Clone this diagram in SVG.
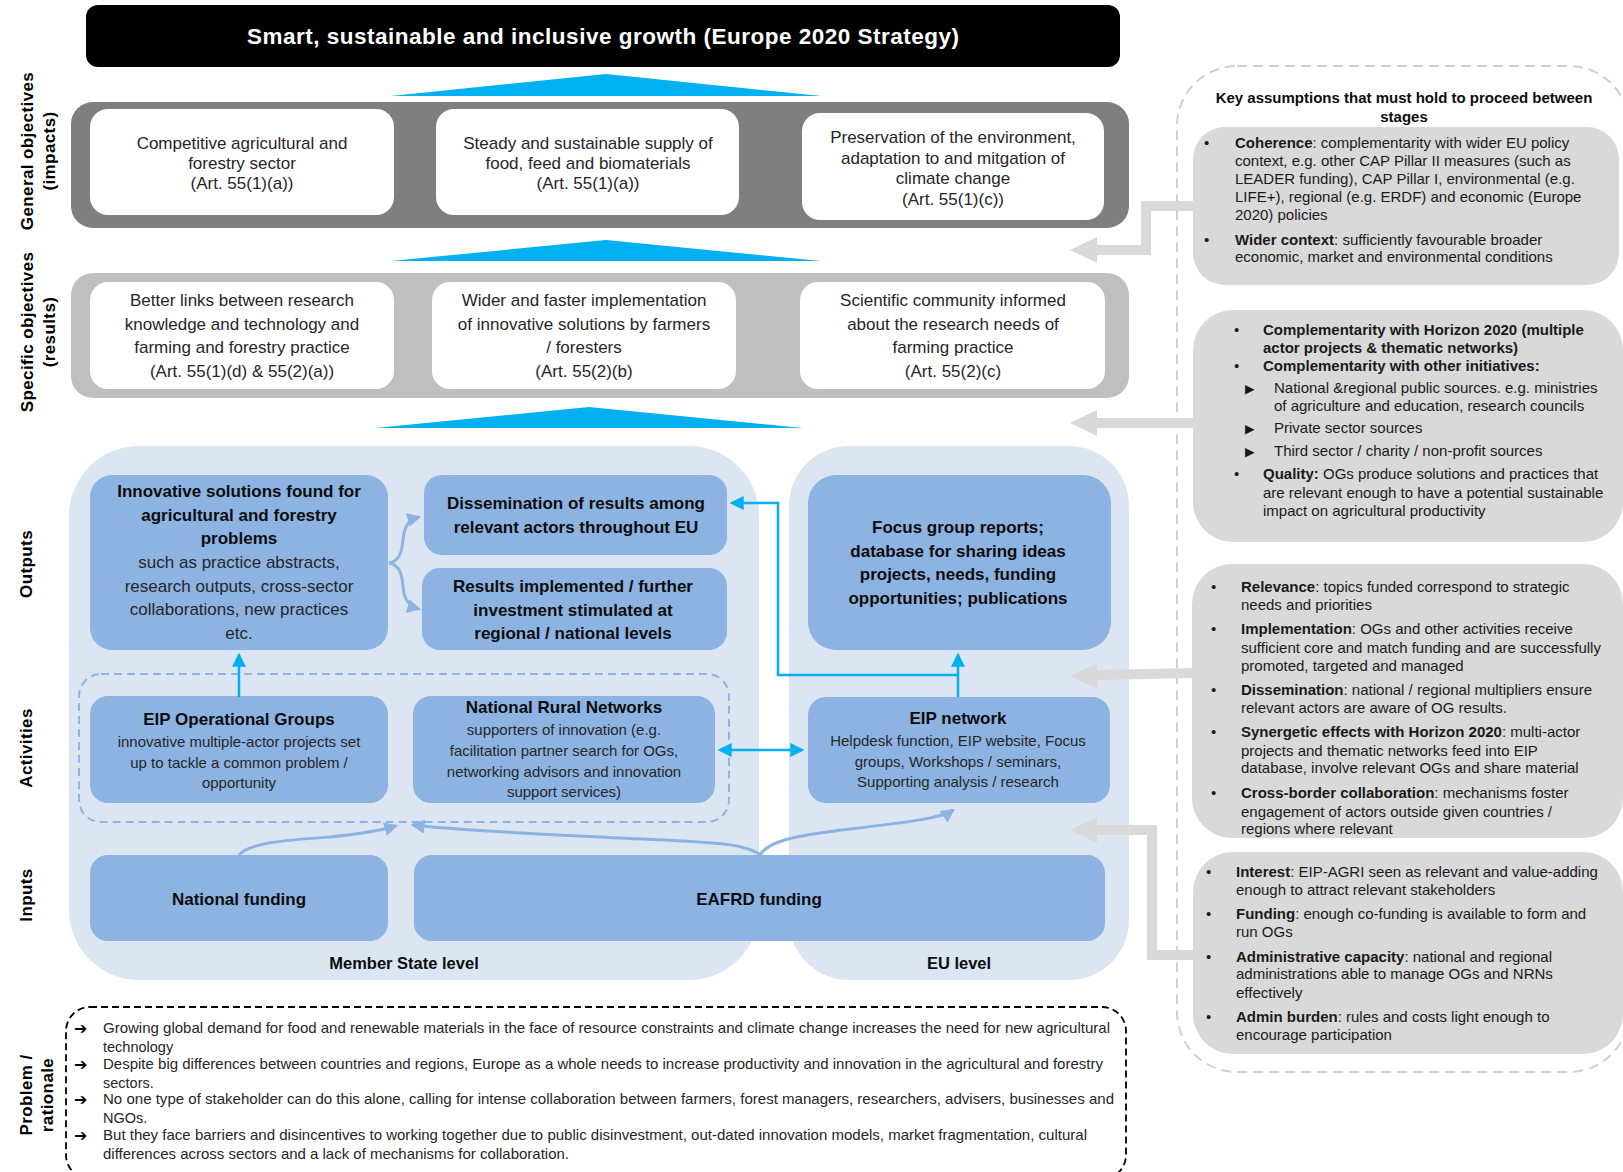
<svg xmlns="http://www.w3.org/2000/svg" width="1623" height="1172" viewBox="0 0 1623 1172">
<style>
text{font-family:"Liberation Sans",Arial,sans-serif}
.c{text-anchor:middle}
.wt{font-size:17px;fill:#262626}
.bb{font-size:17px;font-weight:bold;fill:#0d0d0d}
.br{font-size:17px;fill:#262626}
.ab{font-size:17px;font-weight:bold;fill:#0d0d0d}
.ar{font-size:15px;fill:#262626}
.side{font-size:17px;font-weight:bold;fill:#000;letter-spacing:0.4px}
.pt{font-size:14.5px;fill:#262626}
.ka{font-size:15px;fill:#1a1a1a}
.bu{font-size:15px;fill:#1a1a1a}
.tri{font-family:"DejaVu Sans",sans-serif;font-size:12.5px;fill:#1a1a1a}
.arw{font-family:"DejaVu Sans",sans-serif;font-size:16px;font-weight:bold;fill:#000}
.blue{fill:#8DB3E2}
.cy{fill:none;stroke:#00B0F0;stroke-width:2.5}
.cv{fill:none;stroke:#8DB3E2;stroke-width:3}
.gr{fill:none;stroke:#D9D9D9;stroke-width:10}
.gh{fill:#D9D9D9}
.trg{fill:#00B0F0}
</style>
<defs>
<marker id="mc" markerUnits="userSpaceOnUse" markerWidth="14" markerHeight="14" refX="10" refY="6" orient="auto-start-reverse" viewBox="0 0 12 12">
<path d="M0,0 L12,6 L0,12 Z" fill="#00B0F0"/>
</marker>
<marker id="mb" markerUnits="userSpaceOnUse" markerWidth="14" markerHeight="14" refX="10" refY="6" orient="auto" viewBox="0 0 12 12">
<path d="M0,0 L12,6 L0,12 Z" fill="#8DB3E2"/>
</marker>
</defs>
<rect width="1623" height="1172" fill="#fff"/>

<!-- side labels -->
<g id="side-labels">
<text class="side c" transform="translate(33,151) rotate(-90)">General objectives</text>
<text class="side c" transform="translate(55,151) rotate(-90)">(impacts)</text>
<text class="side c" transform="translate(33,332) rotate(-90)">Specific objectives</text>
<text class="side c" transform="translate(55,332) rotate(-90)">(results)</text>
<text class="side c" transform="translate(32,564) rotate(-90)">Outputs</text>
<text class="side c" transform="translate(32,748) rotate(-90)">Activities</text>
<text class="side c" transform="translate(32,895) rotate(-90)">Inputs</text>
<text class="side c" transform="translate(32,1095) rotate(-90)">Problem /</text>
<text class="side c" transform="translate(53,1095) rotate(-90)">rationale</text>
</g>

<!-- title -->
<g id="title">
<rect x="86" y="5" width="1034" height="62" rx="12" fill="#000"/>
<text class="c" x="603" y="44" font-size="22.5" font-weight="bold" fill="#fff" textLength="712" lengthAdjust="spacing">Smart, sustainable and inclusive growth (Europe 2020 Strategy)</text>
</g>

<!-- upward triangles -->
<g id="triangles">
<polygon class="trg" points="391,96 606,74 821,96"/>
<polygon class="trg" points="391,261 606,240 821,261"/>
<polygon class="trg" points="375,428 589,407 803,428"/>
</g>

<!-- general objectives -->
<g id="general-objectives">
<rect x="71" y="102" width="1058" height="126" rx="22" fill="#7F7F7F"/>
<g id="go1">
<rect x="90" y="109" width="304" height="106" rx="18" fill="#fff"/>
<text class="wt c" x="242" y="149">Competitive  agricultural and</text>
<text class="wt c" x="242" y="169">forestry sector</text>
<text class="wt c" x="242" y="189">(Art. 55(1)(a))</text>
</g>
<g id="go2">
<rect x="436" y="109" width="303" height="106" rx="18" fill="#fff"/>
<text class="wt c" x="588" y="149">Steady and sustainable supply of</text>
<text class="wt c" x="588" y="169">food, feed and biomaterials</text>
<text class="wt c" x="588" y="189">(Art. 55(1)(a))</text>
</g>
<g id="go3">
<rect x="802" y="113" width="302" height="107" rx="18" fill="#fff"/>
<text class="wt c" x="953" y="143">Preservation of the environment,</text>
<text class="wt c" x="953" y="163.5">adaptation to and mitgation of</text>
<text class="wt c" x="953" y="184">climate change</text>
<text class="wt c" x="953" y="204.5">(Art. 55(1)(c))</text>
</g>
</g>

<!-- specific objectives -->
<g id="specific-objectives">
<rect x="71" y="273" width="1058" height="125" rx="22" fill="#BFBFBF"/>
<g id="so1">
<rect x="90" y="282" width="304" height="107" rx="18" fill="#fff"/>
<text class="wt c" x="242" y="306">Better links between  research</text>
<text class="wt c" x="242" y="329.5">knowledge and technology and</text>
<text class="wt c" x="242" y="353">farming and forestry practice</text>
<text class="wt c" x="242" y="376.5">(Art. 55(1)(d) &amp; 55(2)(a))</text>
</g>
<g id="so2">
<rect x="432" y="282" width="304" height="107" rx="18" fill="#fff"/>
<text class="wt c" x="584" y="306">Wider and faster implementation</text>
<text class="wt c" x="584" y="329.5">of innovative solutions by farmers</text>
<text class="wt c" x="584" y="353">/ foresters</text>
<text class="wt c" x="584" y="376.5">(Art. 55(2)(b)</text>
</g>
<g id="so3">
<rect x="800" y="282" width="305" height="107" rx="18" fill="#fff"/>
<text class="wt c" x="953" y="306">Scientific community informed</text>
<text class="wt c" x="953" y="329.5">about the research needs of</text>
<text class="wt c" x="953" y="353">farming practice</text>
<text class="wt c" x="953" y="376.5">(Art. 55(2)(c)</text>
</g>
</g>

<!-- level panels -->
<g id="member-state-panel">
<rect x="69" y="446" width="690" height="534" rx="70" fill="#DCE6F2"/>
<text class="c" x="404" y="969" font-size="16.5" font-weight="bold" fill="#0d0d0d">Member  State level</text>
</g>
<g id="eu-panel">
<rect x="789" y="446" width="340" height="534" rx="60" fill="#DCE6F2"/>
<text class="c" x="959" y="969" font-size="16.5" font-weight="bold" fill="#0d0d0d">EU level</text>
</g>

<!-- outputs -->
<g id="innovative-solutions">
<rect class="blue" x="90" y="475" width="298" height="175" rx="22"/>
<text class="bb c" x="239" y="497">Innovative  solutions found for</text>
<text class="bb c" x="239" y="520.5">agricultural and forestry</text>
<text class="bb c" x="239" y="544">problems</text>
<text class="br c" x="239" y="568">such as practice abstracts,</text>
<text class="br c" x="239" y="591.5">research outputs, cross-sector</text>
<text class="br c" x="239" y="615">collaborations, new practices</text>
<text class="br c" x="239" y="638.5">etc.</text>
</g>
<g id="dissemination">
<rect class="blue" x="424" y="475" width="303" height="80" rx="18"/>
<text class="bb c" x="576" y="509">Dissemination  of results among</text>
<text class="bb c" x="576" y="533">relevant actors throughout EU</text>
</g>
<g id="results-implemented">
<rect class="blue" x="422" y="568" width="305" height="82" rx="18"/>
<text class="bb c" x="573" y="592">Results implemented  / further</text>
<text class="bb c" x="573" y="615.5">investment stimulated at</text>
<text class="bb c" x="573" y="639">regional  / national levels</text>
</g>
<g id="focus-group">
<rect class="blue" x="808" y="475" width="303" height="175" rx="28"/>
<text class="bb c" x="958" y="533">Focus group reports;</text>
<text class="bb c" x="958" y="556.5">database for sharing ideas</text>
<text class="bb c" x="958" y="580">projects, needs, funding</text>
<text class="bb c" x="958" y="603.5">opportunities; publications</text>
</g>

<!-- activities -->
<g id="activities-group">
<rect x="79" y="674" width="650" height="148" rx="22" fill="none" stroke="#8DB3E2" stroke-width="2" stroke-dasharray="8,5"/>
</g>
<g id="eip-og">
<rect class="blue" x="90" y="696" width="298" height="107" rx="18"/>
<text class="ab c" x="239" y="725">EIP Operational Groups</text>
<text class="ar c" x="239" y="747">innovative multiple-actor projects set</text>
<text class="ar c" x="239" y="767.5">up to tackle a common problem /</text>
<text class="ar c" x="239" y="788">opportunity</text>
</g>
<g id="nrn">
<rect class="blue" x="413" y="696" width="302" height="107" rx="18"/>
<text class="ab c" x="564" y="713">National  Rural Networks</text>
<text class="ar c" x="564" y="735">supporters of innovation (e.g.</text>
<text class="ar c" x="564" y="756">facilitation partner search for OGs,</text>
<text class="ar c" x="564" y="777">networking advisors and innovation</text>
<text class="ar c" x="564" y="797">support services)</text>
</g>
<g id="eip-network">
<rect class="blue" x="808" y="697" width="302" height="106" rx="18"/>
<text class="ab c" x="958" y="724">EIP network</text>
<text class="ar c" x="958" y="746">Helpdesk function, EIP website, Focus</text>
<text class="ar c" x="958" y="766.5">groups, Workshops / seminars,</text>
<text class="ar c" x="958" y="787">Supporting analysis / research</text>
</g>

<!-- inputs -->
<g id="national-funding">
<rect class="blue" x="90" y="855" width="298" height="86" rx="18"/>
<text class="bb c" x="239" y="905">National funding</text>
</g>
<g id="eafrd-funding">
<rect class="blue" x="414" y="855" width="691" height="86" rx="18"/>
<text class="bb c" x="759" y="905">EAFRD funding</text>
</g>

<!-- problem / rationale -->
<g id="problem-rationale">
<rect x="66" y="1007" width="1060" height="172" rx="24" fill="none" stroke="#000" stroke-width="1.8" stroke-dasharray="7,4"/>
<text class="arw" x="74" y="1034">➔</text>
<text class="pt" x="103" y="1033" textLength="1007" lengthAdjust="spacingAndGlyphs">Growing global demand for food and renewable materials in the face of resource constraints and climate change increases the need for new agricultural</text>
<text class="pt" x="103" y="1052">technology</text>
<text class="arw" x="74" y="1070">➔</text>
<text class="pt" x="103" y="1069" textLength="1000" lengthAdjust="spacingAndGlyphs">Despite big differences between countries and regions, Europe as a whole needs to increase productivity and innovation  in the agricultural and forestry</text>
<text class="pt" x="103" y="1088">sectors.</text>
<text class="arw" x="74" y="1105">➔</text>
<text class="pt" x="103" y="1104" textLength="1011" lengthAdjust="spacingAndGlyphs">No one type of stakeholder can do this alone, calling for intense collaboration between farmers, forest managers, researchers, advisers, businesses and</text>
<text class="pt" x="103" y="1123">NGOs.</text>
<text class="arw" x="74" y="1141">➔</text>
<text class="pt" x="103" y="1140" textLength="984" lengthAdjust="spacingAndGlyphs">But they face barriers and disincentives to working together due to public disinvestment, out-dated innovation models, market fragmentation, cultural</text>
<text class="pt" x="103" y="1159" textLength="466" lengthAdjust="spacingAndGlyphs">differences across sectors and a lack of mechanisms for collaboration.</text>
</g>

<!-- key assumptions panel -->
<g id="assumptions-panel">
<rect x="1177" y="66" width="452" height="1006" rx="60" fill="none" stroke="#D0D0D0" stroke-width="2" stroke-dasharray="10,6"/>
<text class="c" x="1404" y="103" font-size="15" font-weight="bold" fill="#0d0d0d">Key assumptions that must hold to proceed between</text>
<text class="c" x="1404" y="122" font-size="15" font-weight="bold" fill="#0d0d0d">stages</text>
</g>
<g id="assumption-coherence">
<rect x="1193" y="127" width="426" height="158" rx="32" fill="#D9D9D9"/>
<text class="bu" x="1204" y="148">•</text>
<text class="ka" x="1235" y="148"><tspan font-weight="bold">Coherence</tspan>: complementarity with wider EU policy</text>
<text class="ka" x="1235" y="166">context, e.g. other CAP Pillar II measures (such as</text>
<text class="ka" x="1235" y="184">LEADER funding), CAP Pillar I, environmental (e.g.</text>
<text class="ka" x="1235" y="202">LIFE+), regional (e.g. ERDF) and economic (Europe</text>
<text class="ka" x="1235" y="220">2020) policies</text>
<text class="bu" x="1204" y="245">•</text>
<text class="ka" x="1235" y="245"><tspan font-weight="bold">Wider context</tspan>: sufficiently favourable broader</text>
<text class="ka" x="1235" y="262">economic, market and environmental conditions</text>
</g>
<g id="assumption-complementarity">
<rect x="1193" y="310" width="430" height="232" rx="40" fill="#D9D9D9"/>
<text class="bu" x="1234" y="335">•</text>
<text class="ka" x="1263" y="335" font-weight="bold">Complementarity with Horizon 2020 (multiple</text>
<text class="ka" x="1263" y="353" font-weight="bold">actor projects &amp; thematic networks)</text>
<text class="bu" x="1234" y="371">•</text>
<text class="ka" x="1263" y="371" font-weight="bold">Complementarity with other initiatives:</text>
<text class="tri" x="1245" y="393">▶</text>
<text class="ka" x="1274" y="393">National &amp;regional public sources. e.g. ministries</text>
<text class="ka" x="1274" y="411">of agriculture and education, research councils</text>
<text class="tri" x="1245" y="433">▶</text>
<text class="ka" x="1274" y="433">Private sector sources</text>
<text class="tri" x="1245" y="456">▶</text>
<text class="ka" x="1274" y="456">Third sector / charity / non-profit sources</text>
<text class="bu" x="1234" y="479">•</text>
<text class="ka" x="1263" y="479"><tspan font-weight="bold">Quality:</tspan> OGs produce solutions and practices that</text>
<text class="ka" x="1263" y="498">are relevant enough to have a potential sustainable</text>
<text class="ka" x="1263" y="516">impact on agricultural productivity</text>
</g>
<g id="assumption-relevance">
<rect x="1192" y="564" width="431" height="274" rx="40" fill="#D9D9D9"/>
<text class="bu" x="1211" y="592">•</text>
<text class="ka" x="1241" y="592"><tspan font-weight="bold">Relevance</tspan>: topics funded correspond to strategic</text>
<text class="ka" x="1241" y="610">needs and priorities</text>
<text class="bu" x="1211" y="634">•</text>
<text class="ka" x="1241" y="634"><tspan font-weight="bold">Implementation</tspan>: OGs and other activities receive</text>
<text class="ka" x="1241" y="653">sufficient core and match funding and are successfully</text>
<text class="ka" x="1241" y="671">promoted, targeted and managed</text>
<text class="bu" x="1211" y="695">•</text>
<text class="ka" x="1241" y="695"><tspan font-weight="bold">Dissemination</tspan>: national / regional multipliers ensure</text>
<text class="ka" x="1241" y="713">relevant actors are aware of OG results.</text>
<text class="bu" x="1211" y="737">•</text>
<text class="ka" x="1241" y="737"><tspan font-weight="bold">Synergetic effects with Horizon 2020</tspan>: multi-actor</text>
<text class="ka" x="1241" y="756">projects and thematic networks feed into EIP</text>
<text class="ka" x="1241" y="773">database, involve relevant OGs and share material</text>
<text class="bu" x="1211" y="798">•</text>
<text class="ka" x="1241" y="798"><tspan font-weight="bold">Cross-border collaboration</tspan>: mechanisms foster</text>
<text class="ka" x="1241" y="817">engagement of actors outside given countries /</text>
<text class="ka" x="1241" y="834">regions where relevant</text>
</g>
<g id="assumption-interest">
<rect x="1193" y="852" width="430" height="202" rx="40" fill="#D9D9D9"/>
<text class="bu" x="1206" y="877">•</text>
<text class="ka" x="1236" y="877"><tspan font-weight="bold">Interest</tspan>: EIP-AGRI seen as relevant and value-adding</text>
<text class="ka" x="1236" y="895">enough to attract relevant stakeholders</text>
<text class="bu" x="1206" y="919">•</text>
<text class="ka" x="1236" y="919"><tspan font-weight="bold">Funding</tspan>: enough co-funding is available to form and</text>
<text class="ka" x="1236" y="937">run OGs</text>
<text class="bu" x="1206" y="962">•</text>
<text class="ka" x="1236" y="962"><tspan font-weight="bold">Administrative capacity</tspan>: national and regional</text>
<text class="ka" x="1236" y="979">administrations able to manage OGs and NRNs</text>
<text class="ka" x="1236" y="998">effectively</text>
<text class="bu" x="1206" y="1022">•</text>
<text class="ka" x="1236" y="1022"><tspan font-weight="bold">Admin burden</tspan>: rules and costs light enough to</text>
<text class="ka" x="1236" y="1040">encourage participation</text>
</g>

<!-- connectors -->
<g id="connectors">
<path class="cv" d="M389,563 C399,561 402,553 403,540 C404,527 408,520 419,517" marker-end="url(#mb)"/>
<path class="cv" d="M389,563 C399,565 402,573 403,586 C404,599 408,606 419,609" marker-end="url(#mb)"/>
<path class="cy" d="M239,697 L239,655" marker-end="url(#mc)"/>
<path class="cy" d="M958,697 L958,655" marker-end="url(#mc)"/>
<path class="cy" d="M958,675 L778,675 L778,503 L732,503" marker-end="url(#mc)"/>
<path class="cy" d="M720,750 L802,750" marker-start="url(#mc)" marker-end="url(#mc)"/>
<path class="cv" d="M239,855 C250,842 290,840 330,837 C360,834 382,830 396,826" marker-end="url(#mb)"/>
<path class="cv" d="M760,855 C745,842 700,842 620,838 C520,833 450,830 413,825" marker-end="url(#mb)"/>
<path class="cv" d="M760,855 C768,842 790,836 850,829 C910,822 942,818 953,810" marker-end="url(#mb)"/>
<path class="gr" d="M1193,206 L1146,206 L1146,250 L1095,250"/>
<polygon class="gh" points="1070,250 1097,237 1097,263"/>
<path class="gr" d="M1193,423 L1095,423"/>
<polygon class="gh" points="1070,423 1097,410 1097,436"/>
<path class="gr" d="M1194,673 L1095,675"/>
<polygon class="gh" points="1070,676 1097,663 1097,689"/>
<path class="gr" d="M1193,955 L1152,955 L1152,830 L1095,830"/>
<polygon class="gh" points="1070,830 1097,817 1097,843"/>
</g>
</svg>
